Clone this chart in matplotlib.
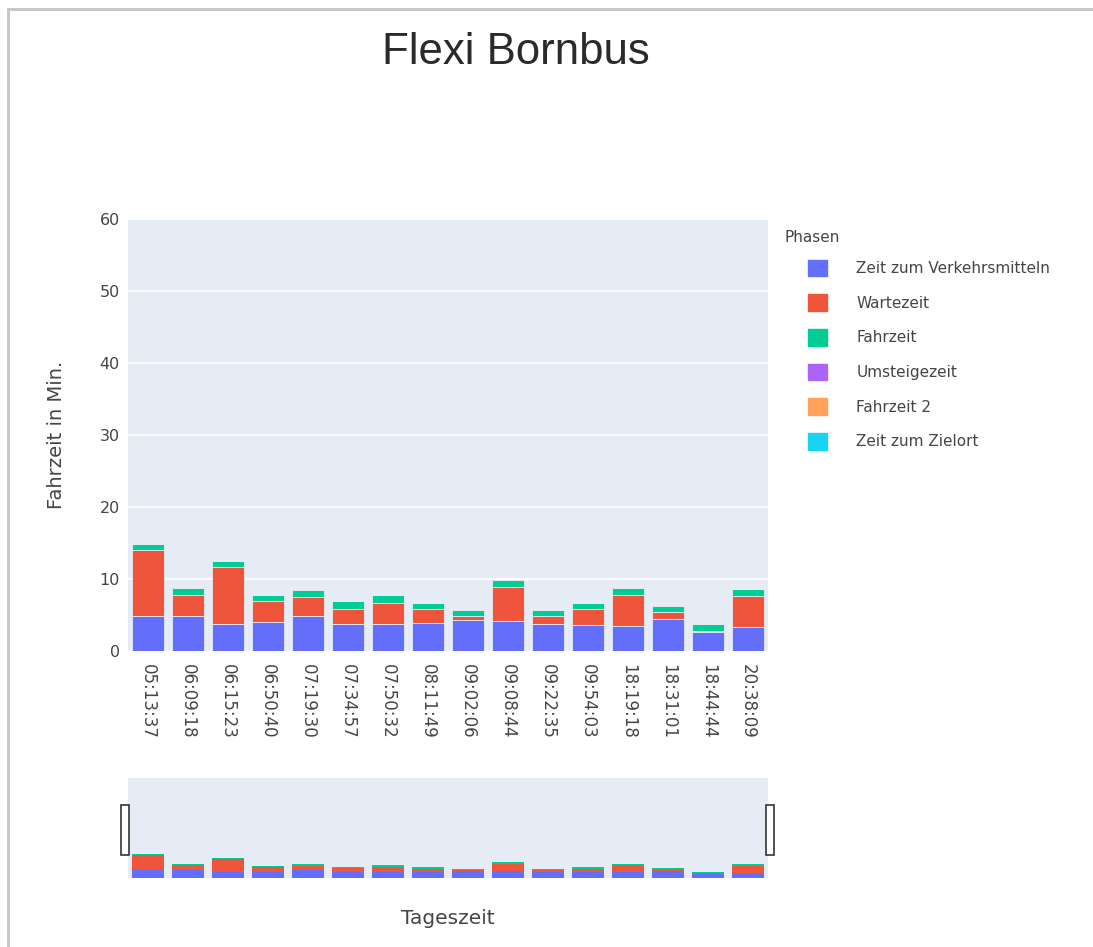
import numpy as np
import matplotlib
matplotlib.use("Agg")
import matplotlib.pyplot as plt
from matplotlib.patches import Rectangle
from matplotlib.lines import Line2D

# Data (minutes)
zeiten = ['05:13:37', '06:09:18', '06:15:23', '06:50:40', '07:19:30', '07:34:57',
          '07:50:32', '08:11:49', '09:02:06', '09:08:44', '09:22:35', '09:54:03',
          '18:19:18', '18:31:01', '18:44:44', '20:38:09']
zeit_zum_vm = [4.9, 4.9, 3.7, 4.0, 4.8, 3.8, 3.7, 3.9, 4.3, 4.2, 3.8, 3.6, 3.5, 4.4, 2.7, 3.4]
wartezeit = [9.1, 2.9, 7.9, 2.9, 2.7, 2.1, 3.0, 1.9, 0.5, 4.7, 1.1, 2.2, 4.3, 1.0, 0.1, 4.3]
fahrzeit = [0.9, 0.9, 0.9, 0.85, 1.0, 1.0, 1.1, 0.9, 0.9, 0.9, 0.8, 0.9, 1.0, 0.9, 0.9, 0.9]
umsteigezeit = [0] * 16
fahrzeit2 = [0] * 16
zeit_zum_zielort = [0] * 16

phasen = ['Zeit zum Verkehrsmitteln', 'Wartezeit', 'Fahrzeit', 'Umsteigezeit',
          'Fahrzeit 2', 'Zeit zum Zielort']
werte = [zeit_zum_vm, wartezeit, fahrzeit, umsteigezeit, fahrzeit2, zeit_zum_zielort]
farben = ['#636EFA', '#EF553B', '#00CC96', '#AB63FA', '#FFA15A', '#19D3F3']

W, H = 1093, 947
fig = plt.figure(figsize=(W / 100, H / 100), dpi=100)
plt.rcParams['font.family'] = ['DejaVu Sans']

def px_axes(x0, y0, x1, y1):
    return fig.add_axes([x0 / W, 1 - y1 / H, (x1 - x0) / W, (y1 - y0) / H])

bg = '#E5ECF6'
txt = '#444444'
x = np.arange(len(zeiten))

# main chart
ax = px_axes(128, 219, 768, 651)
ax.set_facecolor(bg)
bottom = np.zeros(len(zeiten))
handles = []
for name, vals, col in zip(phasen, werte, farben):
    ax.bar(x, vals, width=0.78, bottom=bottom, color=col, edgecolor=bg,
           linewidth=0.6, label=name, zorder=3)
    handles.append(Rectangle((0, 0), 1, 1, color=col))
    bottom += np.array(vals)
ax.set_xlim(-0.5, len(zeiten) - 0.5)
ax.set_ylim(0, 60)
ax.set_yticks(range(0, 61, 10))
ax.grid(axis='y', color='white', linewidth=1.2, zorder=0)
ax.set_axisbelow(True)
for s in ax.spines.values():
    s.set_visible(False)
ax.set_xticks(x)
ax.set_xticklabels(zeiten, rotation=-90, fontsize=12, color=txt)
ax.tick_params(axis='x', length=0, pad=9)
ax.tick_params(axis='y', length=0, pad=6, labelsize=11.5, labelcolor=txt)
ax.set_ylabel('Fahrzeit in Min.', fontsize=14, color=txt, labelpad=24)

# range slider
rs = px_axes(128, 778, 768, 878)
rs.set_facecolor(bg)
bottom = np.zeros(len(zeiten))
for vals, col in zip(werte, farben):
    rs.bar(x, vals, width=0.78, bottom=bottom, color=col, linewidth=0)
    bottom += np.array(vals)
rs.set_xlim(-0.5, len(zeiten) - 0.5)
rs.set_ylim(0, 62)
rs.set_xticks([])
rs.set_yticks([])
for s in rs.spines.values():
    s.set_visible(False)

for hx in (121, 766):
    fig.add_artist(Rectangle((hx / W, 1 - 855 / H), 8 / W, 50 / H, transform=fig.transFigure,
                             facecolor='white', edgecolor='#333333', linewidth=1.2))

fig.text(448 / W, 1 - 918 / H, 'Tageszeit', ha='center', va='center', fontsize=14.5, color=txt)

# title
fig.text(516 / W, 1 - 52 / H, 'Flexi Bornbus', ha='center', va='center', fontsize=31.5,
         color='#2a2a2a', family=['Liberation Sans', 'DejaVu Sans'])

# legend
fig.text(785 / W, 1 - 237 / H, 'Phasen', ha='left', va='center', fontsize=11, color=txt)
leg = fig.legend(handles, phasen, loc='upper left', bbox_to_anchor=(803 / W, 1 - 255 / H),
                 frameon=False, fontsize=11, handlelength=1.3, handleheight=1.3,
                 handletextpad=1.9, labelspacing=1.18, borderaxespad=0, borderpad=0.3)
for t in leg.get_texts():
    t.set_color(txt)

# screenshot frame
fig.add_artist(Line2D([8 / W, 1], [1 - 9 / H, 1 - 9 / H], transform=fig.transFigure,
                      color='#c4c4c4', linewidth=2))
fig.add_artist(Line2D([8 / W, 8 / W], [0, 1 - 9 / H], transform=fig.transFigure,
                      color='#c4c4c4', linewidth=2))

fig.savefig('out.png', dpi=100, facecolor='white')
